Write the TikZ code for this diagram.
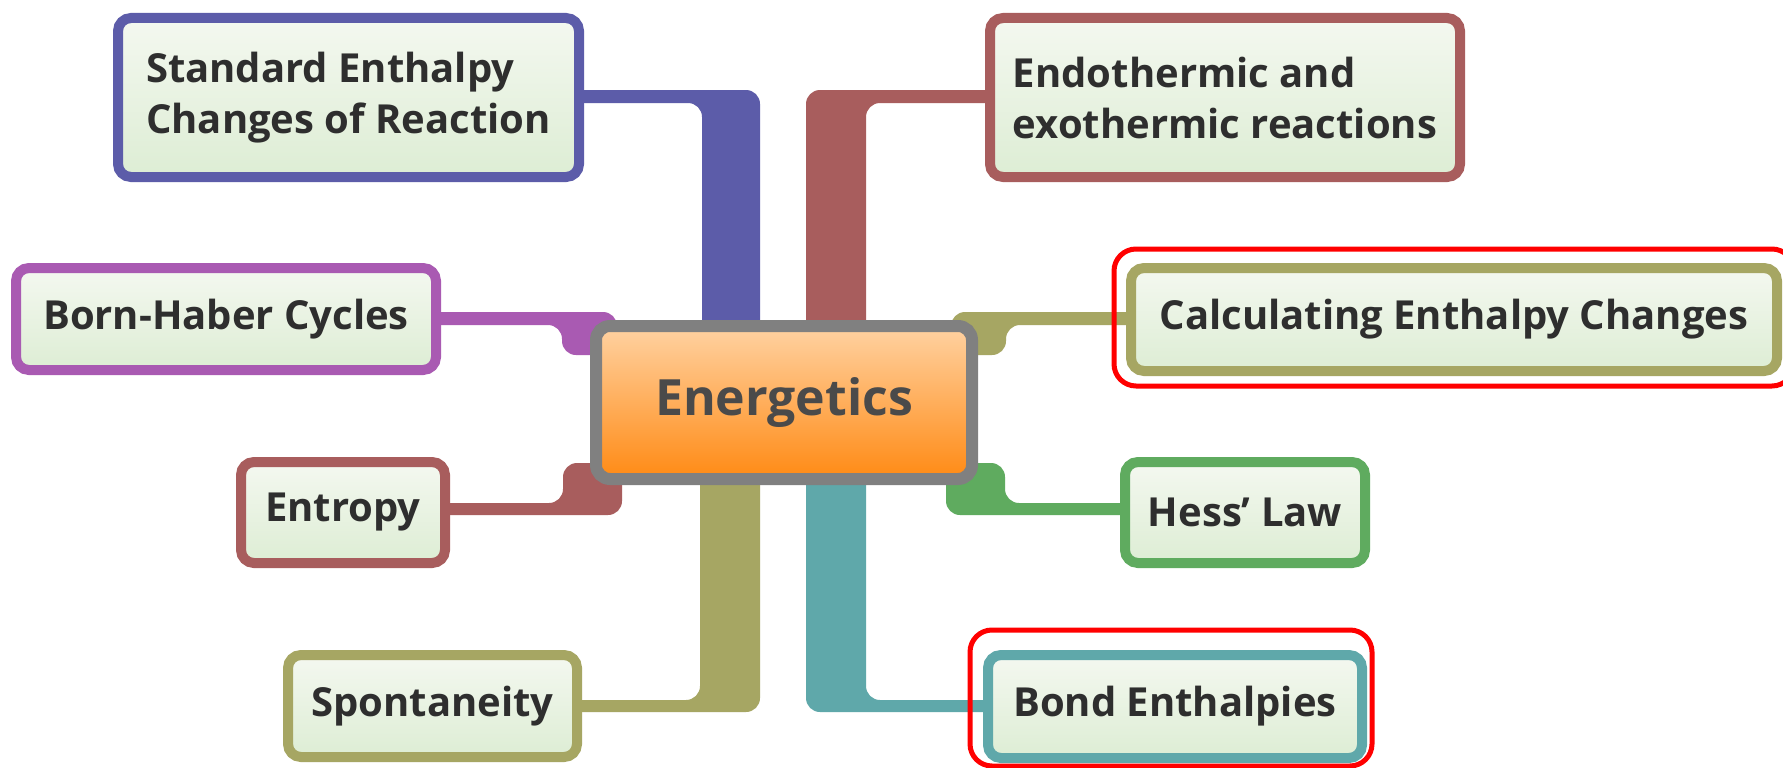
\documentclass[tikz,border=0pt]{standalone}
\usepackage{fontspec}
\setmainfont{Open Sans}
\usetikzlibrary{calc}

\definecolor{cblue}{HTML}{5C5CA9}
\definecolor{cred}{HTML}{A85D5D}
\definecolor{cmag}{HTML}{A95AB2}
\definecolor{colive}{HTML}{A6A663}
\definecolor{cgreen}{HTML}{5FAB5F}
\definecolor{cteal}{HTML}{5FA8AA}
\definecolor{hubline}{HTML}{808080}
\definecolor{hubtop}{HTML}{FFD2A2}
\definecolor{hubbot}{HTML}{FF8A14}
\definecolor{boxtop}{HTML}{F4F8F0}
\definecolor{boxbot}{HTML}{DDEDD4}
\definecolor{textdark}{HTML}{2E2E2E}
\definecolor{hubtext}{HTML}{4A4A4A}
\definecolor{mark}{HTML}{FF0000}

\pgfdeclarelayer{bg}
\pgfdeclarelayer{links}
\pgfsetlayers{bg,links,main}

\tikzset{
  topic/.style={draw=#1, line width=10pt, rounded corners=13pt, inner sep=0pt,
    outer sep=0pt, top color=boxtop, bottom color=boxbot, text=textdark,
    align=left, font=\bfseries\fontsize{40}{51}\selectfont},
  hubnode/.style={draw=hubline, line width=12pt, rounded corners=14pt, inner sep=0pt,
    outer sep=0pt, top color=hubtop, bottom color=hubbot, text=hubtext,
    font=\bfseries\fontsize{50}{60}\selectfont},
  link/.style={fill=#1, rounded corners=14pt},
  highlight/.style={draw=mark, line width=5pt, rounded corners=22pt},
}

\begin{document}
\begin{tikzpicture}[x=1pt, y=-1pt]
  \useasboundingbox (0,0) rectangle (1783,768);
  \begin{pgfonlayer}{bg}
    \fill[white] (0,0) rectangle (1783,768);
  \end{pgfonlayer}

  % central topic
  \node[hubnode, minimum width=376pt, minimum height=153pt] (hub) at (784,402.5) {Energetics};

  % branch topics
  \node[topic=cblue,  minimum width=461pt, minimum height=159pt] (std)     at (348.5,97.5) {Standard Enthalpy\\Changes of Reaction};
  \node[topic=cred,   minimum width=470pt, minimum height=159pt] (endo)    at (1225,97.5)  {Endothermic and\\exothermic reactions};
  \node[topic=cmag,   minimum width=420pt, minimum height=102pt] (born)    at (226,319)    {Born-Haber Cycles};
  \node[topic=colive, minimum width=646pt, minimum height=103pt] (calc)    at (1454,319.5) {Calculating Enthalpy Changes};
  \node[topic=cred,   minimum width=204pt, minimum height=101pt] (entropy) at (343,512.5)  {Entropy};
  \node[topic=cgreen, minimum width=240pt, minimum height=101pt] (hess)    at (1245,512.5) {Hess' Law};
  \node[topic=colive, minimum width=289pt, minimum height=102pt] (spont)   at (432.5,706)  {Spontaneity};
  \node[topic=cteal,  minimum width=374pt, minimum height=103pt] (bond)    at (1175,706.5) {Bond Enthalpies};

  % elbow connectors: thick trunk at the hub, thin line to the topic
  \begin{pgfonlayer}{links}
    \fill[link=cblue]  (760,0 |- hub) -- (760,90) -- (std.center |- 0,90)
      -- (std.center |- 0,103) -- (702,103) -- (702,0 |- hub) -- cycle;
    \fill[link=cred]   (806,0 |- hub) -- (806,90) -- (endo.center |- 0,90)
      -- (endo.center |- 0,103) -- (866,103) -- (866,0 |- hub) -- cycle;
    \fill[link=cmag]   (born.center |- 0,312) -- (617,312) -- (617,355)
      -- (562,355) -- (562,325) -- (born.center |- 0,325) -- cycle;
    \fill[link=colive] (calc.center |- 0,312) -- (951,312) -- (951,355)
      -- (1006,355) -- (1006,325) -- (calc.center |- 0,325) -- cycle;
    \fill[link=cred]   (entropy.center |- 0,515) -- (622,515) -- (622,463)
      -- (563,463) -- (563,503) -- (entropy.center |- 0,503) -- cycle;
    \fill[link=cgreen] (hess.center |- 0,515) -- (946,515) -- (946,463)
      -- (1005,463) -- (1005,503) -- (hess.center |- 0,503) -- cycle;
    \fill[link=colive] (700,0 |- hub) -- (760,0 |- hub) -- (760,712)
      -- (spont.center |- 0,712) -- (spont.center |- 0,700) -- (700,700) -- cycle;
    \fill[link=cteal]  (866,0 |- hub) -- (806,0 |- hub) -- (806,712)
      -- (bond.center |- 0,712) -- (bond.center |- 0,700) -- (866,700) -- cycle;
  \end{pgfonlayer}

  % red emphasis frames
  \draw[highlight] ($(calc.north west)+(-17,-19)$) rectangle ($(calc.south east)+(17,15)$);
  \draw[highlight] ($(bond.north west)+(-18,-25)$) rectangle ($(bond.south east)+(10,8)$);
\end{tikzpicture}
\end{document}
